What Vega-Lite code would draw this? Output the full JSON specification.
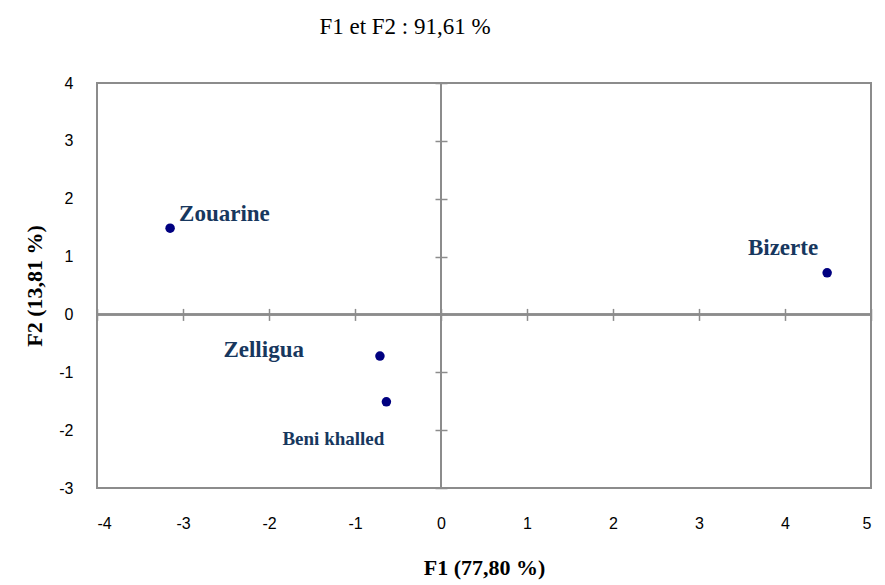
{
  "$schema": "https://vega.github.io/schema/vega-lite/v6.json",
  "width": 774,
  "height": 405,
  "autosize": "none",
  "padding": {"left": 97, "top": 83, "right": 14, "bottom": 97},
  "background": "white",
  "config": {
    "view": {"stroke": "#8C8C8C", "strokeWidth": 2},
    "axis": {"grid": false}
  },
  "title": {
    "text": "F1 et F2 : 91,61 %",
    "font": "Liberation Serif",
    "fontSize": 23,
    "fontWeight": "normal",
    "color": "black",
    "anchor": "middle",
    "dx": -79,
    "dy": 32,
    "offset": 50,
    "baseline": "alphabetic"
  },
  "data": {
    "values": [
      {"site": "Zouarine", "F1": -3.15, "F2": 1.49},
      {"site": "Zelligua", "F1": -0.71, "F2": -0.72},
      {"site": "Beni khalled", "F1": -0.635, "F2": -1.51},
      {"site": "Bizerte", "F1": 4.49, "F2": 0.72}
    ]
  },
  "resolve": {"axis": {"x": "independent", "y": "independent"}},
  "layer": [
    {
      "mark": {"type": "rule", "color": "#8C8C8C", "strokeWidth": 2},
      "encoding": {
        "x": {"datum": -4, "type": "quantitative",
          "axis": {"orient": "top", "offset": -237.4, "labels": false, "domain": false, "ticks": true, "tickSize": 12, "tickColor": "#8C8C8C", "tickWidth": 1.5, "title": null, "values": [-4, -3, -2, -1, 0, 1, 2, 3, 4, 5]}},
        "x2": {"datum": 5},
        "y": {"datum": 0, "type": "quantitative", "axis": null}
      }
    },
    {
      "mark": {"type": "rule", "color": "#8C8C8C", "strokeWidth": 2},
      "encoding": {
        "y": {"datum": -3, "type": "quantitative",
          "axis": {"orient": "right", "offset": -436, "labels": false, "domain": false, "ticks": true, "tickSize": 12, "tickColor": "#8C8C8C", "tickWidth": 1.5, "title": null, "values": [-3, -2, -1, 0, 1, 2, 3, 4]}},
        "y2": {"datum": 4},
        "x": {"datum": 0, "type": "quantitative", "axis": null}
      }
    },
    {
      "mark": {"type": "circle", "color": "#000080", "opacity": 1, "size": 90},
      "encoding": {
        "x": {
          "field": "F1", "type": "quantitative",
          "scale": {"domain": [-4, 5], "nice": false, "zero": false},
          "axis": {
            "orient": "bottom", "values": [-4, -3, -2, -1, 0, 1, 2, 3, 4, 5],
            "labelExpr": "'' + datum.value",
            "ticks": false, "domain": false, "labelPadding": 27,
            "labelFont": "Liberation Sans", "labelFontSize": 16, "labelColor": "black",
            "title": "F1 (77,80 %)", "titleFont": "Liberation Serif", "titleFontSize": 22,
            "titleFontWeight": "bold", "titleColor": "black", "titlePadding": 26
          }
        },
        "y": {
          "field": "F2", "type": "quantitative",
          "scale": {"domain": [-3, 4], "nice": false, "zero": false},
          "axis": {
            "orient": "left", "values": [-3, -2, -1, 0, 1, 2, 3, 4],
            "labelExpr": "'' + datum.value",
            "ticks": false, "domain": false, "labelPadding": 24,
            "labelFont": "Liberation Sans", "labelFontSize": 16, "labelColor": "black",
            "title": "F2 (13,81 %)", "titleFont": "Liberation Serif", "titleFontSize": 22,
            "titleFontWeight": "bold", "titleColor": "black", "titlePadding": 12
          }
        }
      }
    },
    {
      "transform": [{"filter": "datum.site === 'Zouarine'"}],
      "mark": {"type": "text", "align": "left", "baseline": "alphabetic", "dx": 9, "dy": -7, "font": "Liberation Serif", "fontWeight": "bold", "fontSize": 23, "color": "#17375E"},
      "encoding": {
        "x": {"field": "F1", "type": "quantitative", "axis": null},
        "y": {"field": "F2", "type": "quantitative", "axis": null},
        "text": {"field": "site"}
      }
    },
    {
      "transform": [{"filter": "datum.site === 'Zelligua'"}],
      "mark": {"type": "text", "align": "right", "baseline": "alphabetic", "dx": -76, "dy": 1, "font": "Liberation Serif", "fontWeight": "bold", "fontSize": 23, "color": "#17375E"},
      "encoding": {
        "x": {"field": "F1", "type": "quantitative", "axis": null},
        "y": {"field": "F2", "type": "quantitative", "axis": null},
        "text": {"field": "site"}
      }
    },
    {
      "transform": [{"filter": "datum.site === 'Beni khalled'"}],
      "mark": {"type": "text", "align": "center", "baseline": "alphabetic", "dx": -53, "dy": 43, "font": "Liberation Serif", "fontWeight": "bold", "fontSize": 19, "color": "#17375E"},
      "encoding": {
        "x": {"field": "F1", "type": "quantitative", "axis": null},
        "y": {"field": "F2", "type": "quantitative", "axis": null},
        "text": {"field": "site"}
      }
    },
    {
      "transform": [{"filter": "datum.site === 'Bizerte'"}],
      "mark": {"type": "text", "align": "right", "baseline": "alphabetic", "dx": -9, "dy": -18, "font": "Liberation Serif", "fontWeight": "bold", "fontSize": 23, "color": "#17375E"},
      "encoding": {
        "x": {"field": "F1", "type": "quantitative", "axis": null},
        "y": {"field": "F2", "type": "quantitative", "axis": null},
        "text": {"field": "site"}
      }
    }
  ]
}
